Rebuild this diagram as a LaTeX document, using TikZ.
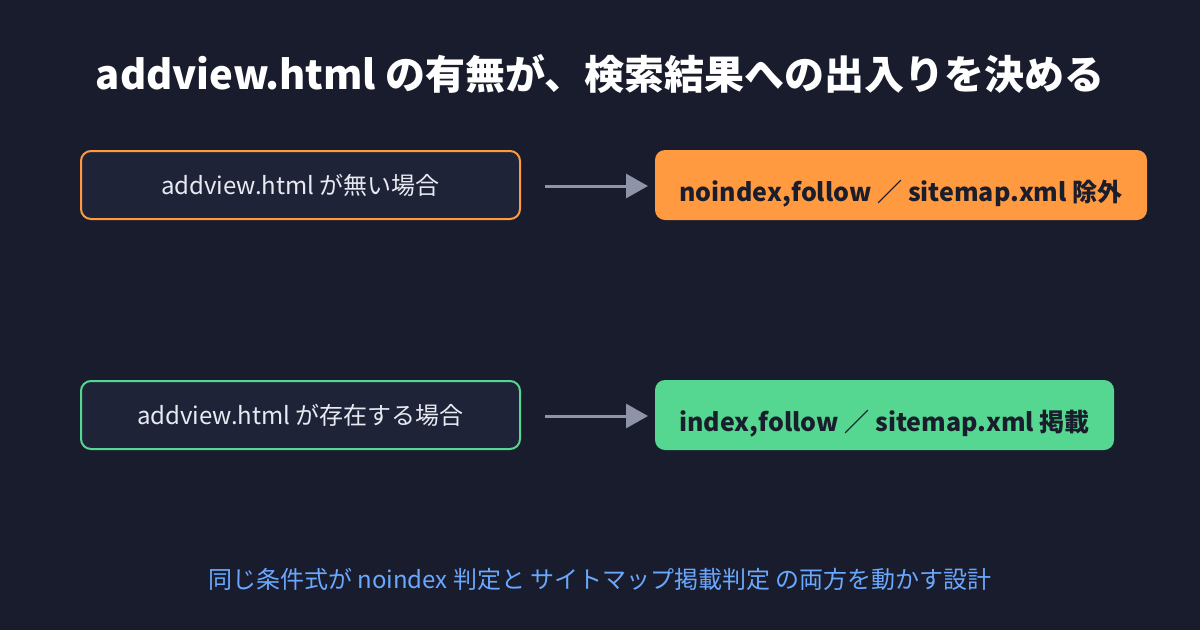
\documentclass[tikz,border=0pt]{standalone}
\usepackage{fontspec}
\setmainfont{Noto Sans CJK JP}
\usetikzlibrary{arrows.meta}
\definecolor{bg}{HTML}{191C2C}
\definecolor{boxfill}{HTML}{1F2337}
\definecolor{orange}{HTML}{FF9A40}
\definecolor{green}{HTML}{55D691}
\definecolor{arrowgray}{HTML}{8E93A8}
\definecolor{darktext}{HTML}{1A1D2B}
\definecolor{lighttext}{HTML}{E8EAF2}
\definecolor{note}{HTML}{6AA8FF}
\tikzset{
  x=1pt, y=-1pt,
  condbox/.style={draw, line width=2pt, fill=boxfill, rounded corners=10pt, minimum width=439pt, minimum height=68pt, inner sep=0pt, text=lighttext, font=\fontsize{24}{28}\selectfont},
  resbox/.style={rounded corners=10pt, minimum height=70pt, inner sep=0pt, text=darktext},
  restext/.style={text=darktext, font=\fontsize{25}{30}\selectfont\bfseries, inner sep=0pt},
  flow/.style={draw=arrowgray, line width=3pt, -{Triangle[length=22pt,width=24pt]}, shorten >=0pt}
}
\begin{document}
\begin{tikzpicture}
\useasboundingbox (0,0) rectangle (1200,630);
\fill[bg] (0,0) rectangle (1200,630);
\node[text=white, font=\fontsize{40}{46}\selectfont\bfseries] (title) at (600,74) {addview.html の有無が、検索結果への出入りを決める};

\node[condbox, draw=orange] (c1) at (300.5,185) {addview.html が無い場合};
\node[resbox, fill=orange, minimum width=492pt] (r1) at (901,185) {};
\node[restext] (t1) at (901,194) {noindex,follow ／ sitemap.xml 除外};
\coordinate (a1s) at (545,186);
\coordinate (a1e) at (648,186);
\draw[flow] (a1s) -- (a1e);

\node[condbox, draw=green] (c2) at (300.5,415) {addview.html が存在する場合};
\node[resbox, fill=green, minimum width=459pt] (r2) at (884.5,415) {};
\node[restext] (t2) at (884.5,424) {index,follow ／ sitemap.xml 掲載};
\coordinate (a2s) at (545,416);
\coordinate (a2e) at (648,416);
\draw[flow] (a2s) -- (a2e);

\node[text=note, font=\fontsize{24}{28}\selectfont] (foot) at (600,579) {同じ条件式が noindex 判定と サイトマップ掲載判定 の両方を動かす設計};
\end{tikzpicture}
\end{document}
